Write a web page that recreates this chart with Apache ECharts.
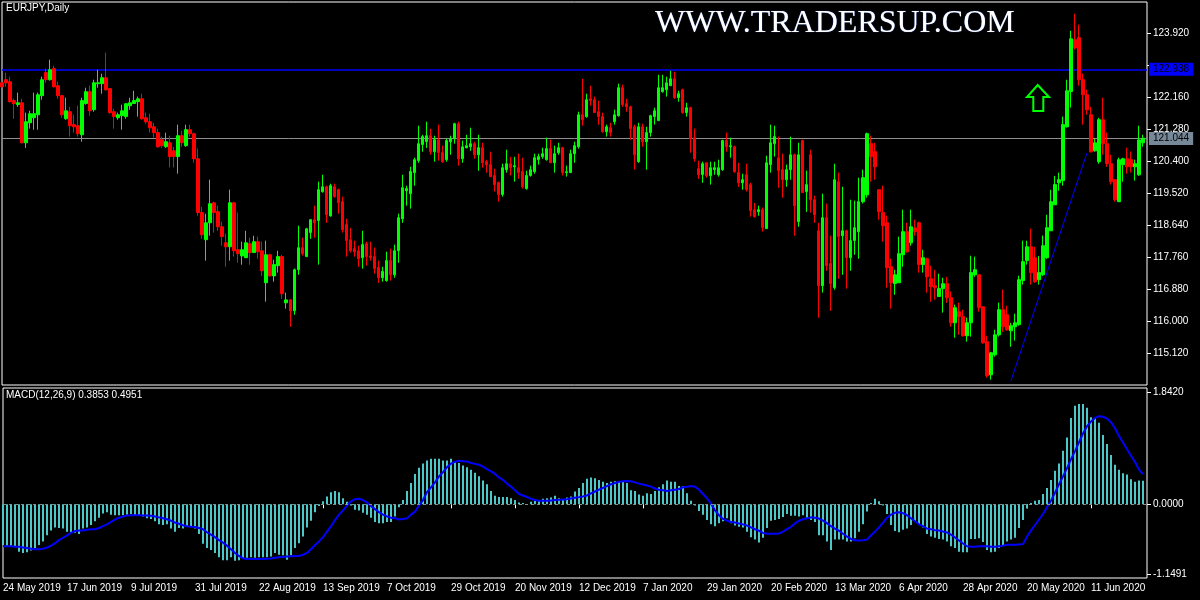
<!DOCTYPE html>
<html>
<head>
<meta charset="utf-8">
<script src="https://cdn.jsdelivr.net/npm/echarts/dist/echarts.min.js"></script>
<style>
html,body{margin:0;padding:0;background:#000;}
#chart{width:1200px;height:600px;}
</style>
</head>
<body>
<div id="chart"></div>
<script>
// ---------- DATA ----------
const symbolTitle = 'EURJPY,Daily';
const watermark = 'WWW.TRADERSUP.COM';
const dateTickLabels = ['24 May 2019','17 Jun 2019','9 Jul 2019','31 Jul 2019','22 Aug 2019','13 Sep 2019','7 Oct 2019','29 Oct 2019','20 Nov 2019','12 Dec 2019','7 Jan 2020','29 Jan 2020','20 Feb 2020','13 Mar 2020','6 Apr 2020','28 Apr 2020','20 May 2020','11 Jun 2020'];
const barsPerDateLabel = 16;
const priceTicks = [115.12,116.00,116.88,117.76,118.64,119.52,120.40,121.28,122.16,123.04,123.92];
const macdTicks = [-1.1491,0,1.842];
const levelLine = 122.938;
const trendLine = [[252,114.37],[271,120.64]];

// daily candles: [open, close, low, high]
const candles = [
[122.57,122.46,122.44,122.60],[122.655,122.57,122.46,122.85],[122.60,122.05,122.03,122.74],[122.08,121.995,121.58,122.13],[121.97,122.02,121.91,122.30],
[122.02,120.92,120.90,122.13],[120.92,121.50,120.78,121.75],[121.47,121.72,121.31,121.80],[121.61,121.72,121.28,122.30],[121.69,122.24,121.28,122.30],
[122.215,122.655,122.105,122.74],[122.85,122.655,122.57,122.96],[122.655,122.93,122.63,123.205],[122.96,122.46,122.44,123.04],[122.49,122.215,122.13,122.60],
[122.215,121.69,121.61,122.24],[121.58,121.80,121.555,122.16],[121.775,121.39,121.09,121.91],[121.42,121.36,121.20,121.69],[121.39,121.17,121.09,121.94],
[121.14,122.08,120.95,122.16],[122.00,122.325,121.97,122.435],[122.325,121.80,121.665,122.49],[121.83,122.57,121.775,122.655],[122.545,122.57,122.435,122.93],
[122.545,122.71,122.27,122.82],[122.71,122.38,122.35,123.40],[122.41,121.75,121.72,122.43],[121.775,121.64,121.31,121.86],[121.61,121.69,121.555,121.75],
[121.665,121.80,121.28,121.97],[121.64,121.995,121.58,122.00],[121.94,122.02,121.83,122.16],[122.00,122.08,121.995,122.35],[122.05,122.13,121.64,122.19],
[122.13,121.58,121.555,122.27],[121.61,121.50,121.445,121.75],[121.50,121.335,121.20,121.72],[121.36,121.20,121.06,121.47],[121.20,120.81,120.78,121.31],
[121.005,120.84,120.78,121.09],[120.81,120.95,120.78,121.20],[120.92,120.54,120.24,121.115],[120.70,120.54,120.24,120.81],[120.54,121.115,120.07,121.42],
[121.115,120.92,120.81,121.25],[120.84,121.28,120.81,121.42],[121.28,121.17,121.09,121.42],[121.17,120.48,120.37,121.20],[120.48,119.00,118.915,120.76],
[119.00,118.39,118.28,119.16],[118.255,118.72,117.68,118.97],[118.72,119.245,118.365,119.905],[119.27,119.00,118.45,119.30],[119.025,118.61,118.50,119.19],
[118.61,118.34,118.09,118.75],[118.17,118.06,117.51,118.42],[118.06,119.27,117.68,119.63],[119.27,117.95,117.79,119.30],[117.98,117.87,117.62,119.00],
[117.81,117.98,117.565,118.20],[117.76,118.17,117.76,118.50],[118.145,117.90,117.565,118.31],[117.90,118.20,117.90,118.365],[118.20,117.925,117.73,118.34],
[117.95,117.40,117.26,118.20],[117.07,117.84,116.55,118.23],[117.84,117.26,117.24,117.87],[117.26,117.57,117.10,117.705],[117.54,117.79,117.35,117.95],
[117.79,116.77,116.63,117.84],[116.52,116.60,116.36,116.80],[116.60,116.30,115.86,116.62],[116.30,117.43,116.19,117.46],[117.43,118.035,117.29,118.64],
[118.035,117.87,117.82,118.31],[117.79,118.555,117.79,118.58],[118.45,118.805,118.28,118.81],[118.805,118.72,118.31,119.19],[118.78,119.63,117.57,119.85],
[119.575,119.71,119.55,120.04],[119.71,118.94,118.72,119.74],[118.91,119.74,118.89,119.795],[119.71,119.44,119.41,119.795],[119.63,119.27,118.97,119.66],
[119.30,118.53,118.45,119.44],[118.67,118.23,117.79,118.83],[118.255,117.95,117.90,118.58],[118.01,117.925,117.79,118.23],[117.95,117.73,117.51,118.09],
[117.76,118.12,117.46,118.50],[118.145,117.79,117.54,118.20],[117.81,117.76,117.68,118.20],[117.79,117.46,117.32,118.04],[117.49,117.21,117.07,117.68],
[117.21,117.38,117.10,117.51],[117.13,117.68,117.10,117.925],[117.68,117.29,117.13,118.01],[117.29,117.95,117.21,118.12],[117.95,118.86,117.62,118.97],
[118.83,119.685,118.72,120.04],[119.60,119.66,119.19,119.74],[119.52,120.13,119.11,120.26],[120.10,120.455,119.74,120.51],[120.43,120.895,120.37,121.39],
[120.87,121.09,120.675,121.14],[120.95,121.115,120.78,121.50],[121.115,120.675,120.59,121.31],[120.675,121.005,120.40,121.115],[121.005,120.65,120.43,121.42],
[120.65,120.40,120.37,120.84],[120.455,120.98,120.40,121.03],[120.95,121.03,120.59,121.115],[121.03,121.445,120.895,121.47],[121.445,120.48,120.29,121.50],
[120.48,120.81,120.37,120.98],[120.78,120.84,120.78,121.14],[120.81,120.895,120.70,121.335],[120.895,120.59,120.48,120.95],[120.59,120.785,120.15,121.14],
[120.785,120.37,120.24,120.92],[120.40,120.32,120.10,120.455],[120.32,119.99,119.99,120.675],[120.02,119.77,119.58,120.21],[119.83,119.50,119.30,119.85],
[119.50,120.235,119.44,120.345],[120.18,120.345,120.10,120.73],[120.345,120.235,120.02,120.535],[120.26,120.29,119.85,120.535],[120.235,120.10,119.93,120.62],
[120.13,119.71,119.66,120.51],[119.66,120.02,119.63,120.155],[120.02,120.18,119.99,120.29],[120.125,120.51,120.07,120.62],[120.455,120.54,120.32,120.62],
[120.54,120.62,120.48,120.785],[120.455,120.76,120.43,121.06],[120.76,120.37,120.37,121.005],[120.37,120.62,120.10,120.84],[120.645,120.785,120.59,120.92],
[120.785,120.10,120.02,120.81],[120.10,120.125,119.99,120.29],[120.10,120.62,120.10,120.73],[120.62,120.84,120.37,120.95],[120.81,121.69,120.76,121.775],
[121.69,121.555,121.39,122.68],[121.64,122.105,121.61,122.27],[122.13,122.08,121.94,122.49],[122.105,121.75,121.75,122.19],[121.775,121.64,121.42,122.08],
[121.64,121.225,121.20,121.75],[121.225,121.36,121.09,121.42],[121.335,121.20,121.09,121.47],[121.50,121.69,121.42,121.83],[121.665,122.435,121.64,122.545],
[122.435,121.97,121.91,122.52],[121.995,121.91,121.775,122.13],[121.91,121.31,121.005,121.94],[121.36,120.59,120.18,121.42],[120.40,121.36,120.37,121.47],
[121.36,120.95,120.81,121.445],[120.95,121.20,120.18,121.36],[121.20,121.665,121.09,121.69],[121.64,121.80,121.42,121.885],[121.53,122.435,121.53,122.79],
[122.325,122.435,122.30,122.79],[122.38,122.57,122.19,122.74],[122.49,122.68,122.49,122.90],[122.68,122.16,122.13,122.875],[122.16,122.27,122.05,122.35],
[122.38,121.75,121.72,122.41],[121.75,121.885,121.64,122.02],[121.885,121.03,120.65,121.91],[121.06,120.48,120.40,121.31],[120.21,120.045,119.93,120.43],
[120.045,120.345,119.82,120.40],[120.37,120.015,119.96,120.37],[120.015,120.235,119.77,120.40],[120.18,120.235,120.04,120.40],[120.04,120.235,119.99,120.455],
[120.18,120.98,120.15,121.005],[120.98,120.81,120.675,121.20],[120.81,120.84,120.51,121.06],[120.81,120.125,120.10,120.84],[120.10,119.82,119.71,120.37],
[119.82,119.905,119.63,120.07],[120.04,119.63,119.58,120.345],[119.77,119.05,118.89,119.82],[119.08,118.89,118.86,119.27],[119.025,119.08,118.915,119.19],
[119.08,118.585,118.475,119.14],[118.56,120.37,118.56,120.565],[120.32,120.92,120.10,121.42],[120.895,121.09,120.54,121.39],[120.51,120.155,119.685,121.09],
[120.18,119.905,119.41,120.62],[119.905,120.18,119.71,120.32],[120.18,120.59,119.905,121.09],[120.59,119.19,118.365,120.62],[118.75,120.59,118.61,120.92],
[120.98,119.55,119.55,121.005],[119.575,119.77,119.02,120.155],[120.59,119.355,119.00,120.73],[119.355,118.94,118.72,119.465],[118.50,116.99,116.11,118.72],
[116.99,118.86,116.80,119.52],[118.86,117.54,117.40,119.25],[117.60,117.05,116.30,118.365],[116.94,119.905,116.88,120.345],[119.85,118.34,117.18,120.10],
[118.365,118.50,117.29,119.71],[118.50,117.76,116.91,118.53],[117.76,118.23,117.40,119.355],[118.23,118.585,117.84,119.33],[118.475,119.30,117.73,119.96],
[119.30,119.96,119.25,120.18],[119.49,121.17,119.41,121.20],[120.895,120.54,119.85,121.115],[120.675,120.26,119.905,120.92],[119.63,119.025,118.805,119.63],
[119.00,118.64,118.20,119.74],[118.72,117.485,116.935,118.915],[117.51,117.07,116.36,117.73],[117.05,117.29,116.74,117.43],[117.07,117.87,117.07,118.34],
[117.84,118.475,117.51,119.08],[118.475,117.925,117.90,118.72],[118.17,118.61,118.09,119.08],[118.58,118.475,118.365,118.805],[118.72,117.57,117.35,118.75],
[117.57,117.76,117.35,117.98],[117.73,117.235,116.80,117.76],[117.18,116.96,116.55,117.54],[116.99,116.935,116.605,117.43],[116.69,116.91,116.69,117.32],
[116.91,117.045,116.25,117.21],[117.045,116.66,116.52,117.235],[116.66,115.97,115.86,116.825],[115.97,116.385,115.56,116.47],[116.275,116.14,115.64,116.525],
[116.14,115.615,115.59,116.33],[115.615,115.97,115.45,116.11],[115.97,117.35,115.59,117.815],[117.29,117.43,117.235,117.79],[117.29,116.385,116.275,117.29],
[116.41,115.42,115.395,116.41],[115.45,114.515,114.46,115.615],[114.54,115.145,114.405,115.17],[115.09,115.64,115.04,115.78],[115.64,116.33,115.59,116.525],
[116.33,115.86,115.72,116.88],[116.19,115.78,115.75,116.44],[115.75,115.89,115.31,115.97],[115.86,115.97,115.48,116.22],[115.92,117.155,115.89,117.265],
[117.13,117.65,117.02,118.23],[117.68,118.06,117.57,118.23],[118.06,117.35,117.02,118.56],[117.76,117.10,117.07,118.06],[117.155,117.35,117.02,117.81],
[117.29,118.09,117.26,118.37],[117.76,118.585,117.73,118.94],[118.50,119.30,118.50,119.63],[119.215,119.77,119.215,120.01],[119.82,119.905,119.60,120.10],
[119.88,121.42,119.74,121.64],[121.36,122.35,121.34,122.655],[122.33,123.78,121.89,124.00],[123.755,123.53,123.48,124.47],[123.81,122.655,122.49,124.17],
[122.655,122.24,121.42,122.82],[122.24,121.83,121.69,122.38],[121.69,120.675,120.65,121.91],[120.70,120.92,120.675,121.03],[120.40,121.555,120.345,121.61],
[121.555,120.895,120.59,122.16],[120.895,120.345,120.26,121.20],[120.345,119.85,119.77,120.59],[119.905,119.355,119.30,119.905],[119.30,120.455,119.30,120.51],
[120.32,120.48,119.85,120.51],[120.48,120.26,120.07,120.785],[120.455,120.26,120.10,120.68],[120.26,120.345,119.88,120.455],[120.04,121.00,120.01,121.39],
[120.92,121.044,120.81,121.14]
];

// MACD(12,26,9) histogram (main line) per bar
const macdHist = [
-0.67,-0.68,-0.68,-0.69,-0.78,-0.80,-0.79,-0.76,-0.72,-0.67,
-0.61,-0.51,-0.43,-0.38,-0.39,-0.40,-0.45,-0.47,-0.47,-0.49,
-0.40,-0.38,-0.34,-0.28,-0.22,-0.15,-0.13,-0.17,-0.18,-0.18,
-0.18,-0.17,-0.16,-0.18,-0.18,-0.20,-0.23,-0.24,-0.28,-0.33,
-0.34,-0.33,-0.40,-0.45,-0.39,-0.40,-0.36,-0.36,-0.40,-0.49,
-0.65,-0.72,-0.75,-0.80,-0.87,-0.92,-0.92,-0.87,-0.93,-0.92,
-0.88,-0.88,-0.87,-0.88,-0.87,-0.87,-0.87,-0.86,-0.80,-0.83,
-0.84,-0.91,-0.84,-0.72,-0.64,-0.53,-0.38,-0.27,-0.13,-0.03,
0.05,0.13,0.20,0.22,0.20,0.10,0.04,-0.02,-0.09,-0.10,
-0.14,-0.17,-0.22,-0.29,-0.31,-0.31,-0.29,-0.29,-0.20,-0.05,
0.07,0.22,0.35,0.50,0.60,0.67,0.72,0.75,0.75,0.75,
0.72,0.72,0.75,0.69,0.68,0.64,0.61,0.57,0.52,0.46,
0.39,0.33,0.22,0.14,0.12,0.12,0.12,0.10,0.07,0.03,
0.02,0.00,0.04,0.06,0.07,0.09,0.10,0.11,0.14,0.10,
0.07,0.11,0.13,0.21,0.27,0.35,0.42,0.44,0.43,0.40,
0.37,0.35,0.37,0.38,0.37,0.37,0.35,0.23,0.22,0.16,
0.14,0.18,0.17,0.22,0.28,0.33,0.39,0.37,0.37,0.30,
0.30,0.18,0.06,-0.02,-0.11,-0.17,-0.26,-0.33,-0.36,-0.31,
-0.28,-0.23,-0.31,-0.35,-0.37,-0.38,-0.45,-0.54,-0.58,-0.63,
-0.55,-0.39,-0.27,-0.26,-0.24,-0.21,-0.16,-0.19,-0.19,-0.20,
-0.18,-0.23,-0.26,-0.29,-0.51,-0.51,-0.61,-0.75,-0.58,-0.58,
-0.58,-0.61,-0.61,-0.56,-0.45,-0.33,-0.12,0.02,0.09,0.05,
-0.02,-0.16,-0.34,-0.44,-0.46,-0.42,-0.40,-0.34,-0.29,-0.34,
-0.38,-0.49,-0.53,-0.55,-0.57,-0.58,-0.61,-0.69,-0.72,-0.78,
-0.79,-0.79,-0.57,-0.57,-0.56,-0.62,-0.75,-0.79,-0.78,-0.72,
-0.67,-0.61,-0.58,-0.55,-0.39,-0.26,-0.07,0.02,0.06,0.07,
0.17,0.27,0.40,0.55,0.67,0.88,1.10,1.42,1.62,1.65,
1.65,1.59,1.43,1.42,1.34,1.14,0.99,0.81,0.65,0.57,
0.51,0.49,0.41,0.37,0.39,0.3853
];

// MACD signal line per bar
const macdSignal = [
-0.69,-0.69,-0.69,-0.70,-0.70,-0.71,-0.72,-0.73,-0.74,-0.74,
-0.73,-0.71,-0.68,-0.64,-0.59,-0.55,-0.51,-0.47,-0.44,-0.43,
-0.43,-0.42,-0.41,-0.41,-0.39,-0.36,-0.33,-0.29,-0.25,-0.22,
-0.20,-0.185,-0.18,-0.18,-0.18,-0.185,-0.185,-0.19,-0.20,-0.215,
-0.23,-0.245,-0.27,-0.30,-0.32,-0.345,-0.36,-0.37,-0.375,-0.39,
-0.41,-0.46,-0.50,-0.54,-0.59,-0.63,-0.68,-0.74,-0.80,-0.85,
-0.89,-0.90,-0.90,-0.90,-0.90,-0.90,-0.895,-0.89,-0.88,-0.87,
-0.865,-0.86,-0.855,-0.85,-0.85,-0.83,-0.80,-0.74,-0.67,-0.61,
-0.54,-0.45,-0.36,-0.26,-0.17,-0.10,-0.02,0.05,0.085,0.09,
0.07,0.03,-0.03,-0.08,-0.13,-0.17,-0.20,-0.22,-0.23,-0.25,
-0.24,-0.23,-0.17,-0.12,-0.02,0.07,0.20,0.28,0.36,0.46,
0.53,0.61,0.67,0.70,0.715,0.71,0.705,0.68,0.665,0.65,
0.62,0.58,0.54,0.50,0.44,0.40,0.34,0.29,0.23,0.17,
0.145,0.12,0.09,0.07,0.06,0.058,0.058,0.063,0.069,0.074,
0.08,0.085,0.096,0.107,0.118,0.13,0.145,0.18,0.21,0.24,
0.27,0.30,0.33,0.35,0.37,0.38,0.385,0.38,0.36,0.34,
0.325,0.31,0.29,0.26,0.24,0.23,0.22,0.23,0.24,0.25,
0.28,0.29,0.30,0.29,0.24,0.17,0.10,0.01,-0.10,-0.18,
-0.24,-0.27,-0.29,-0.30,-0.315,-0.33,-0.35,-0.38,-0.41,-0.435,
-0.47,-0.485,-0.485,-0.485,-0.48,-0.45,-0.41,-0.37,-0.315,-0.27,
-0.245,-0.23,-0.215,-0.22,-0.235,-0.27,-0.31,-0.36,-0.40,-0.435,
-0.485,-0.53,-0.57,-0.59,-0.595,-0.59,-0.58,-0.51,-0.45,-0.38,
-0.30,-0.22,-0.17,-0.14,-0.13,-0.145,-0.18,-0.23,-0.28,-0.33,
-0.36,-0.40,-0.41,-0.425,-0.43,-0.447,-0.463,-0.50,-0.545,-0.595,
-0.645,-0.69,-0.70,-0.70,-0.69,-0.69,-0.69,-0.70,-0.70,-0.69,
-0.68,-0.665,-0.665,-0.665,-0.66,-0.655,-0.53,-0.43,-0.34,-0.25,
-0.16,-0.05,0.06,0.19,0.33,0.46,0.595,0.74,0.875,1.02,
1.165,1.285,1.36,1.42,1.45,1.44,1.41,1.35,1.25,1.125,
1.015,0.905,0.80,0.695,0.57,0.4951
];

// ---------- CHART ----------
const FONT = '"Liberation Sans", Arial, sans-serif';
const nBars = candles.length;
const lastClose = candles[nBars - 1][1];
const categories = Array.from({length: nBars + 1}, (_, i) => String(i));
const showDateTick = (idx) => idx % barsPerDateLabel === 0 && (idx / barsPerDateLabel) < dateTickLabels.length;
const macdText = 'MACD(12,26,9) ' + macdHist[nBars - 1].toFixed(4) + ' ' + macdSignal[nBars - 1].toFixed(4);
// price labels that sit under the level-line box are covered by it (MT4 behaviour)
const visiblePriceLabels = priceTicks.filter(v => Math.abs(v - levelLine) > 0.2);

const chart = echarts.init(document.getElementById('chart'));
chart.setOption({
  backgroundColor: '#000000',
  animation: false,
  textStyle: {fontFamily: FONT},
  grid: [
    {left: 2, top: 2, width: 1145, height: 383, show: true, borderColor: '#ffffff', borderWidth: 1, backgroundColor: '#000000'},
    {left: 2, top: 388, width: 1145, height: 190, show: true, borderColor: '#ffffff', borderWidth: 1, backgroundColor: '#000000'}
  ],
  xAxis: [
    {type: 'category', gridIndex: 0, data: categories, boundaryGap: false,
     axisLine: {show: false}, axisTick: {show: false}, axisLabel: {show: false}, splitLine: {show: false}},
    {type: 'category', gridIndex: 1, data: categories, boundaryGap: false,
     axisLine: {show: false}, splitLine: {show: false},
     axisTick: {show: true, interval: showDateTick, length: 4, lineStyle: {color: '#ffffff'}},
     axisLabel: {show: true, interval: showDateTick, align: 'left', margin: 5, color: '#ffffff', fontSize: 10, fontFamily: FONT,
       formatter: (v, idx) => dateTickLabels[idx / barsPerDateLabel]}}
  ],
  yAxis: [
    {type: 'value', gridIndex: 0, position: 'right', min: 114.259, max: 124.792,
     axisLine: {show: false}, splitLine: {show: false},
     axisTick: {show: true, length: 4, customValues: priceTicks, lineStyle: {color: '#ffffff'}},
     axisLabel: {show: true, customValues: visiblePriceLabels, margin: 6, color: '#ffffff', fontSize: 10, fontFamily: FONT,
       formatter: (v) => v.toFixed(3)}},
    {type: 'value', gridIndex: 1, position: 'right', min: -1.2122, max: 1.9128,
     axisLine: {show: false}, splitLine: {show: false},
     axisTick: {show: true, length: 4, customValues: macdTicks, lineStyle: {color: '#ffffff'}},
     axisLabel: {show: true, customValues: macdTicks, margin: 6, color: '#ffffff', fontSize: 10, fontFamily: FONT,
       formatter: (v) => v.toFixed(4)}}
  ],
  series: [
    {type: 'candlestick', xAxisIndex: 0, yAxisIndex: 0, data: candles, barWidth: 3, z: 5,
     itemStyle: {color: '#00ff00', color0: '#ff0000', borderColor: '#00ff00', borderColor0: '#ff0000', borderWidth: 1},
     markLine: {silent: true, symbol: ['none', 'none'], animation: false,
       data: [
         {yAxis: levelLine, lineStyle: {color: '#0000ff', width: 1.5, type: 'solid'},
          label: {show: true, position: 'end', distance: 2, formatter: levelLine.toFixed(3), backgroundColor: '#0000ff',
                  color: '#000000', padding: [2, 4, 1, 4], fontSize: 10, fontFamily: FONT}},
         {yAxis: lastClose, lineStyle: {color: '#8f8f8f', width: 1, type: 'solid'},
          label: {show: true, position: 'end', distance: 2, formatter: lastClose.toFixed(3), backgroundColor: '#778899',
                  color: '#000000', padding: [2, 4, 1, 4], fontSize: 10, fontFamily: FONT}}
       ]}},
    {type: 'line', xAxisIndex: 0, yAxisIndex: 0, data: trendLine, showSymbol: false, silent: true,
     lineStyle: {color: '#0000ff', width: 1}, z: 6},
    {type: 'bar', xAxisIndex: 1, yAxisIndex: 1, data: macdHist, barWidth: 2,
     itemStyle: {color: '#4cc8c8'},
     markLine: {silent: true, symbol: ['none', 'none'], animation: false, label: {show: false},
       data: [{yAxis: 0, lineStyle: {color: '#8a8a8a', width: 1, type: [3, 3]}}]}},
    {type: 'line', xAxisIndex: 1, yAxisIndex: 1, data: macdSignal, showSymbol: false, silent: true,
     lineStyle: {color: '#0000ff', width: 2}, z: 4}
  ],
  graphic: [
    {type: 'text', left: 6, top: 3, style: {text: symbolTitle, fill: '#ffffff', font: '10px ' + FONT}},
    {type: 'text', left: 6, top: 390, style: {text: macdText, fill: '#ffffff', font: '10px ' + FONT}},
    {type: 'text', left: 655, top: 8, style: {text: watermark, fill: '#ffffff', font: '32px "Liberation Serif", "Times New Roman", serif',
      textShadowColor: 'rgba(90,130,255,0.9)', textShadowBlur: 1, textShadowOffsetX: 0, textShadowOffsetY: 0}},
    {type: 'polygon', shape: {points: [[1037.7,85],[1049,97],[1043.3,97],[1043.3,111],[1033.3,111],[1033.3,97],[1027,97]]},
     style: {fill: 'none', stroke: '#00ff00', lineWidth: 2}}
  ]
});
</script>
</body>
</html>
